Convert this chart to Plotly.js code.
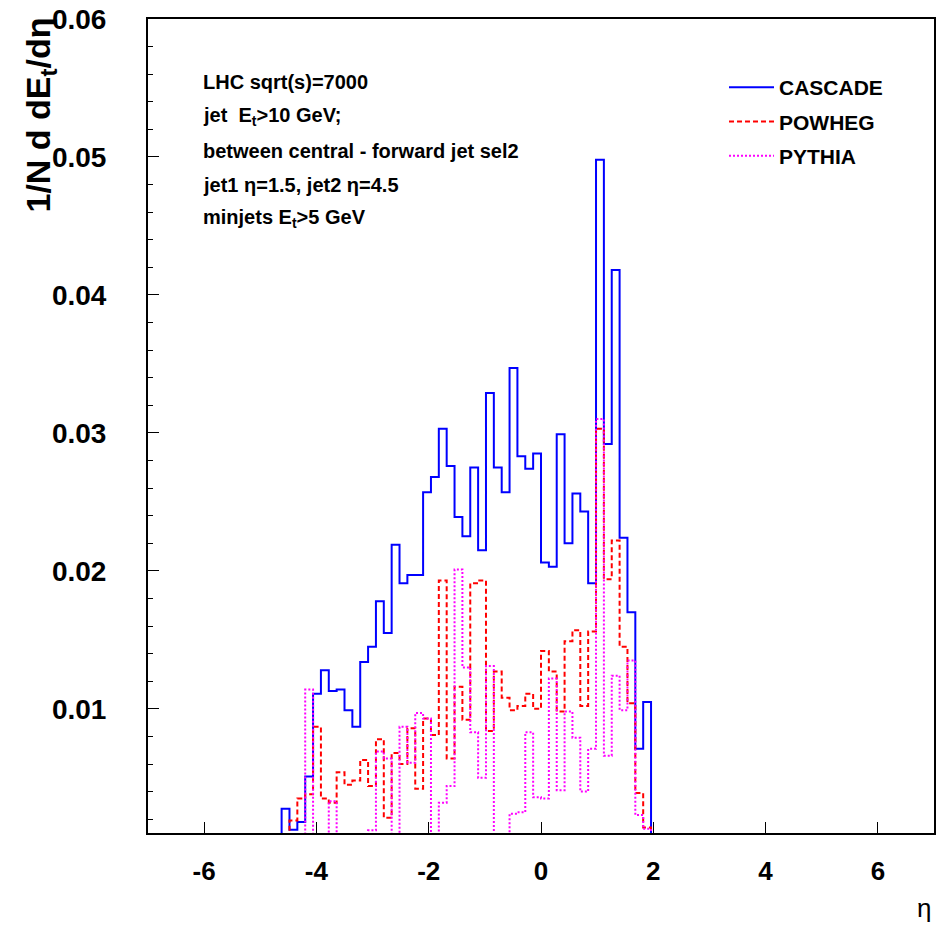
<!DOCTYPE html>
<html>
<head>
<meta charset="utf-8">
<script src="https://cdn.plot.ly/plotly-3.0.1.min.js"></script>
<style>html,body{margin:0;padding:0;background:#fff;}#plot{width:942px;height:925px;}</style>
</head>
<body>
<div id="plot"></div>
<script>
// Histogram definition: 100 bins over eta in [-7, 7]
const etaMin = -7;
const binWidth = 0.14;
const firstBin = 17; // index of first filled bin

// Bin contents, bins 17..63
const cascade = [0.00275, 0.00123, 0.0018, 0.0051, 0.0111, 0.0128, 0.0113, 0.0114, 0.0099, 0.0087,
  0.0134, 0.0145, 0.0178, 0.0155, 0.0219, 0.0191, 0.0197, 0.0197, 0.0257, 0.0268,
  0.0303, 0.0276, 0.0239, 0.0225, 0.0275, 0.0215, 0.0329, 0.0275, 0.0257, 0.0347,
  0.0283, 0.0274, 0.0285, 0.0206, 0.0203, 0.0299, 0.0220, 0.0256, 0.0243, 0.0191,
  0.0498, 0.0292, 0.0418, 0.0224, 0.0170, 0.0071, 0.0105];
const powheg = [0, 0.0019, 0.0035, 0.0038, 0.0087, 0.0035, 0.0032, 0.0054, 0.0045, 0.0048,
  0.0063, 0.0044, 0.0078, 0.0021, 0.0068, 0.0060, 0.0086, 0.0042, 0.0093, 0.0081,
  0.0193, 0.0064, 0.0116, 0.0092, 0.0191, 0.0193, 0.0084, 0.0127, 0.0108, 0.0099,
  0.0102, 0.0111, 0.0100, 0.0142, 0.0127, 0.0098, 0.0149, 0.0157, 0.0102, 0.0156,
  0.0303, 0.0194, 0.0222, 0.0145, 0.0104, 0.0039, 0.0014];
const pythia = [0, 0.0005, 0.0005, 0.0114, 0, 0, 0.0033, 0, 0, 0,
  0, 0.0012, 0.0069, 0.0064, 0, 0.0087, 0.0061, 0.0097, 0.0093, 0,
  0.0032, 0.0044, 0.0201, 0.0130, 0.0083, 0.0050, 0.0131, 0, 0, 0.0024,
  0.0025, 0.0083, 0.0036, 0.0035, 0.0122, 0.0041, 0.0098, 0.0079, 0.0040, 0.0071,
  0.0310, 0.0066, 0.0124, 0.0099, 0.0135, 0.0023, 0.0013];

const seriesNames = ['CASCADE', 'POWHEG', 'PYTHIA'];
const xTickVals = [-6, -4, -2, 0, 2, 4, 6];
const xTickText = ['-6', '-4', '-2', '0', '2', '4', '6'];
const infoLines = ['LHC sqrt(s)=7000', 'jet  E<sub>t</sub>&gt;10 GeV;', 'between central - forward jet sel2',
  'jet1 η=1.5, jet2 η=4.5', 'minjets E<sub>t</sub>&gt;5 GeV'];

function steps(vals) {
  const xs = [], ys = [];
  const e0 = etaMin + firstBin * binWidth;
  xs.push(e0); ys.push(0);
  for (let i = 0; i < vals.length; i++) {
    xs.push(etaMin + (firstBin + i) * binWidth);
    ys.push(vals[i]);
  }
  const eN = etaMin + (firstBin + vals.length) * binWidth;
  xs.push(eN); ys.push(vals[vals.length - 1]);
  xs.push(eN); ys.push(0);
  return {xs, ys};
}

const styles = [
  {color: '#0000ff', dash: 'solid', width: 2},
  {color: '#ff0000', dash: '5px,3px', width: 2},
  {color: '#ff00ff', dash: '2px,2px', width: 2}
];
const traces = [cascade, powheg, pythia].map((v, i) => {
  const s = steps(v);
  return {
    x: s.xs, y: s.ys, type: 'scatter', mode: 'lines', name: seriesNames[i],
    legendgroup: 'g' + i,
    line: {shape: 'hv', color: styles[i].color, dash: styles[i].dash, width: styles[i].width},
    hoverinfo: 'skip'
  };
});

const L = 148, R = 8, T = 19, B = 92, W = 942, H = 925;
const pw = W - L - R, ph = H - T - B;
const px2x = x => (x - L) / pw;
const py2y = y => (H - B - y) / ph;

const bold = {family: 'Liberation Sans, Arial, sans-serif', weight: 'bold', color: '#000'};
const annotations = [];
const infoY = [82, 116, 151, 185, 218];
infoLines.forEach((t, i) => {
  annotations.push({xref: 'paper', yref: 'paper', x: px2x(201), y: py2y(infoY[i]), xanchor: 'left', yanchor: 'middle',
    text: t, showarrow: false, font: Object.assign({size: 20}, bold)});
});
annotations.push({xref: 'paper', yref: 'paper', x: px2x(40), y: py2y(16), xanchor: 'center', yanchor: 'top',
  text: '1/N d dE<sub>t</sub>/dη', textangle: -90, showarrow: false, font: Object.assign({size: 34}, bold)});
annotations.push({xref: 'paper', yref: 'paper', x: px2x(924), y: py2y(908), xanchor: 'center', yanchor: 'middle',
  text: 'η', showarrow: false, font: {family: 'Liberation Sans, Arial, sans-serif', size: 26, color: '#000'}});

const layout = {
  width: W, height: H,
  margin: {l: L, r: R, t: T, b: B, pad: 0},
  paper_bgcolor: '#fff', plot_bgcolor: '#fff',
  showlegend: true,
  legend: {x: px2x(724), y: py2y(67), xanchor: 'left', yanchor: 'top', bgcolor: 'rgba(0,0,0,0)',
    font: Object.assign({size: 21}, bold), tracegroupgap: 4, traceorder: 'grouped', itemwidth: 45},
  xaxis: {range: [-7, 7], tickvals: xTickVals, ticktext: xTickText, ticks: 'inside', ticklen: 11, tickwidth: 1,
    tickcolor: '#000', showgrid: false, zeroline: false, showline: true, linecolor: '#000', linewidth: 2, mirror: true,
    tickfont: Object.assign({size: 26}, bold), ticklabelstandoff: 14},
  yaxis: {range: [0.001, 0.06], dtick: 0.01, tick0: 0, tickformat: '.2f', ticks: 'inside', ticklen: 11, tickwidth: 1,
    tickcolor: '#000', showgrid: false, zeroline: false, showline: true, linecolor: '#000', linewidth: 2, mirror: true,
    tickfont: Object.assign({size: 28}, bold), ticklabelstandoff: 34,
    minor: {dtick: 0.002, tick0: 0, ticks: 'inside', ticklen: 5, tickcolor: '#000', showgrid: false}},
  annotations: annotations
};

Plotly.newPlot('plot', traces, layout, {staticPlot: true, displayModeBar: false});
</script>
</body>
</html>
